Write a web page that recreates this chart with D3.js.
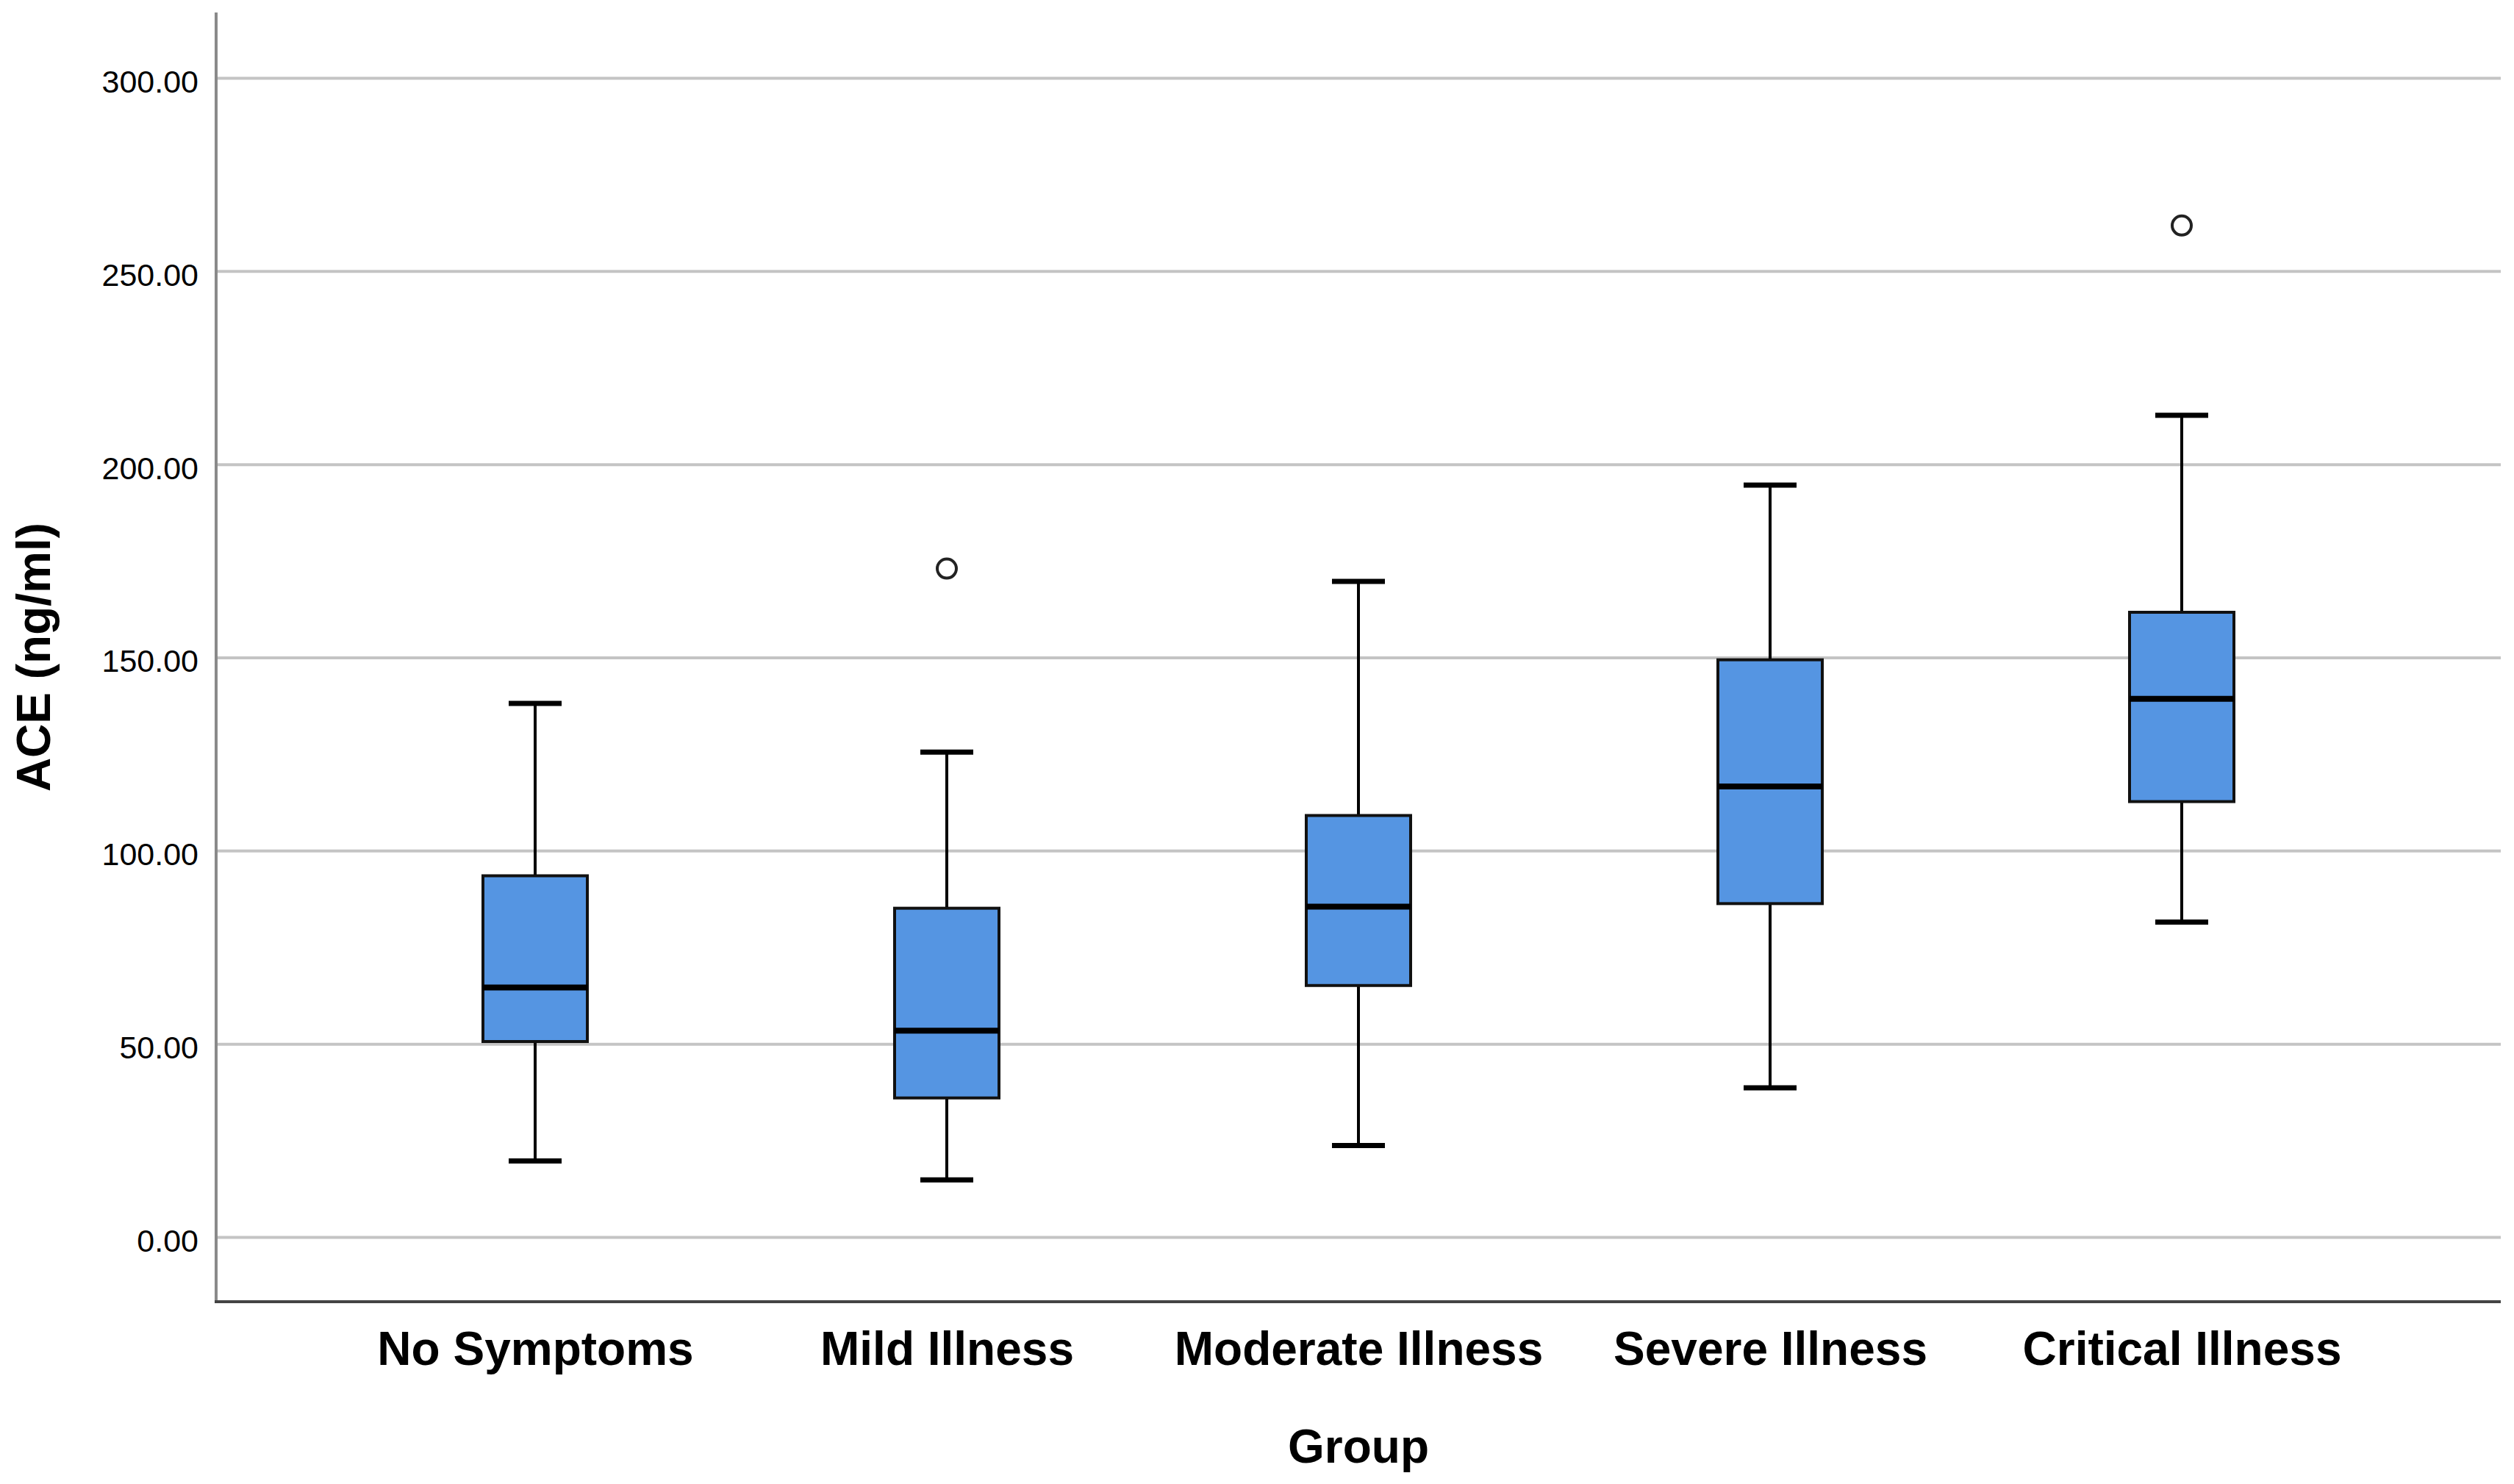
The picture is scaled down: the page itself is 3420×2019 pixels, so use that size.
<!DOCTYPE html>
<html>
<head>
<meta charset="utf-8">
<script src="https://cdn.jsdelivr.net/npm/d3@7"></script>
<style>
  body { margin: 0; background: #fff; }
  svg { display: block; }
  text { font-family: "Liberation Sans", Arial, sans-serif; fill: #000; }
</style>
</head>
<body>
<svg width="3420" height="2019"></svg>
<script>
// values
var categories = ["No Symptoms", "Mild Illness", "Moderate Illness", "Severe Illness", "Critical Illness"];
var whiskerLow  = [19.7, 14.8, 23.7, 38.6, 81.5];
var q1          = [50.6, 36.0, 65.1, 86.3, 112.7];
var median      = [64.6, 53.4, 85.5, 116.6, 139.3];
var q3          = [93.5, 85.1, 109.1, 149.4, 161.7];
var whiskerHigh = [138.1, 125.5, 169.7, 194.6, 212.7];
var outliers    = [[], [173.0], [], [], [261.8]];
var yTicks      = [0, 50, 100, 150, 200, 250, 300];

var svg = d3.select("svg");

var plotLeft = 294, plotRight = 3402, plotTop = 17, plotBottom = 1771;

var x = d3.scalePoint().domain(categories).range([plotLeft, plotRight]).padding(0.775);
var y = d3.scaleLinear().domain([0, 300]).range([1683, 106]);

var boxW = 142, capW = 72;

// gridlines + y tick labels
var yAxis = svg.append("g")
    .attr("transform", "translate(" + plotLeft + ",0)")
    .call(d3.axisLeft(y).tickValues(yTicks).tickFormat(d3.format(".2f"))
      .tickSize(-(plotRight - plotLeft)).tickPadding(24));
yAxis.select(".domain").remove();
yAxis.selectAll("line").attr("stroke", "#c4c4c4").attr("stroke-width", 4);
yAxis.selectAll("text")
    .attr("dy", "0.45em")
    .style("font-size", "43px")
    .style("font-family", "'Liberation Sans', Arial, sans-serif")
    .attr("fill", "#000");

// axis lines
svg.append("line")
    .attr("x1", plotLeft).attr("x2", plotLeft).attr("y1", plotTop).attr("y2", plotBottom)
    .attr("stroke", "#8a8a8a").attr("stroke-width", 4);

var xAxis = svg.append("g")
    .attr("transform", "translate(0," + plotBottom + ")")
    .call(d3.axisBottom(x).tickSize(0).tickPadding(41));
xAxis.select(".domain").remove();
xAxis.selectAll("text")
    .style("font-size", "64px")
    .style("font-weight", "bold")
    .style("font-family", "'Liberation Sans', Arial, sans-serif")
    .attr("fill", "#000");

svg.append("line")
    .attr("x1", plotLeft - 2).attr("x2", plotRight).attr("y1", plotBottom).attr("y2", plotBottom)
    .attr("stroke", "#444").attr("stroke-width", 4);

// boxes
var data = categories.map(function(c, i) {
  return {cat: c, lo: whiskerLow[i], q1: q1[i], med: median[i], q3: q3[i], hi: whiskerHigh[i], out: outliers[i]};
});

var g = svg.selectAll(".box").data(data).enter().append("g").attr("class", "box");

// whiskers
g.append("line")
    .attr("x1", function(d) { return x(d.cat); }).attr("x2", function(d) { return x(d.cat); })
    .attr("y1", function(d) { return y(d.q3); }).attr("y2", function(d) { return y(d.hi); })
    .attr("stroke", "#000").attr("stroke-width", 4);
g.append("line")
    .attr("x1", function(d) { return x(d.cat); }).attr("x2", function(d) { return x(d.cat); })
    .attr("y1", function(d) { return y(d.q1); }).attr("y2", function(d) { return y(d.lo); })
    .attr("stroke", "#000").attr("stroke-width", 4);

// caps
g.append("line")
    .attr("x1", function(d) { return x(d.cat) - capW / 2; }).attr("x2", function(d) { return x(d.cat) + capW / 2; })
    .attr("y1", function(d) { return y(d.hi); }).attr("y2", function(d) { return y(d.hi); })
    .attr("stroke", "#000").attr("stroke-width", 7);
g.append("line")
    .attr("x1", function(d) { return x(d.cat) - capW / 2; }).attr("x2", function(d) { return x(d.cat) + capW / 2; })
    .attr("y1", function(d) { return y(d.lo); }).attr("y2", function(d) { return y(d.lo); })
    .attr("stroke", "#000").attr("stroke-width", 7);

// box
g.append("rect")
    .attr("x", function(d) { return x(d.cat) - boxW / 2; })
    .attr("width", boxW)
    .attr("y", function(d) { return y(d.q3); })
    .attr("height", function(d) { return y(d.q1) - y(d.q3); })
    .attr("fill", "#5595e2")
    .attr("stroke", "#111").attr("stroke-width", 4);

// median
g.append("line")
    .attr("x1", function(d) { return x(d.cat) - boxW / 2; }).attr("x2", function(d) { return x(d.cat) + boxW / 2; })
    .attr("y1", function(d) { return y(d.med); }).attr("y2", function(d) { return y(d.med); })
    .attr("stroke", "#000").attr("stroke-width", 8);

// outliers
g.selectAll("circle")
    .data(function(d) { return d.out.map(function(v) { return {cat: d.cat, v: v}; }); })
    .enter().append("circle")
    .attr("cx", function(d) { return x(d.cat); })
    .attr("cy", function(d) { return y(d.v); })
    .attr("r", 13)
    .attr("fill", "#fff")
    .attr("stroke", "#222").attr("stroke-width", 4);

// axis titles
svg.append("text")
    .attr("x", (plotLeft + plotRight) / 2)
    .attr("y", 1990)
    .attr("text-anchor", "middle")
    .style("font-size", "64px")
    .style("font-weight", "bold")
    .text("Group");

svg.append("text")
    .attr("transform", "translate(68," + ((plotTop + plotBottom) / 2) + ") rotate(-90)")
    .attr("text-anchor", "middle")
    .style("font-size", "64px")
    .style("font-weight", "bold")
    .text("ACE (ng/ml)");
</script>
</body>
</html>
